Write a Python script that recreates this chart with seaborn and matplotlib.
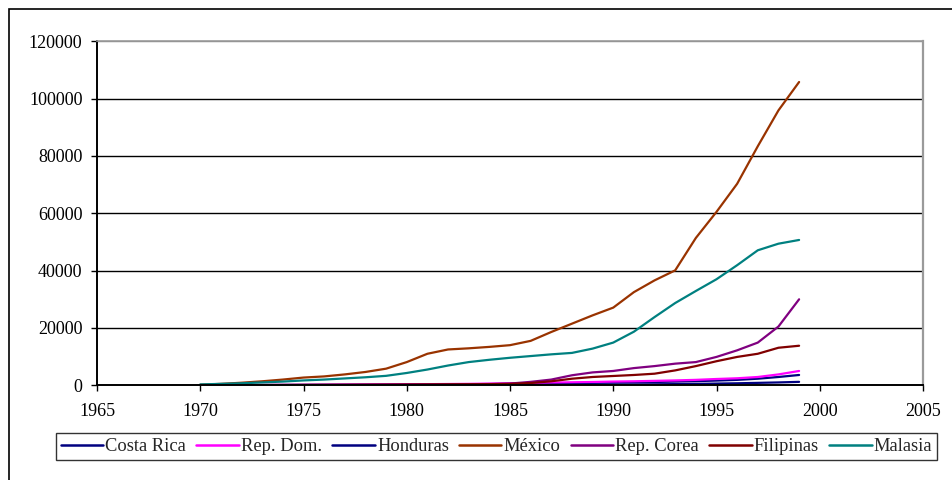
import numpy as np
import pandas as pd
import matplotlib
matplotlib.use("Agg")
import matplotlib.pyplot as plt
from matplotlib.patches import Rectangle
import seaborn as sns

years = list(range(1970, 2000))

costa_rica = [40, 60, 80, 100, 120, 140, 160, 180, 200, 230, 260, 280, 300, 330, 380,
              450, 550, 650, 750, 850, 950, 1050, 1150, 1300, 1450, 1650, 1900, 2300, 2900, 3600]
rep_dom = [20, 40, 60, 90, 120, 150, 180, 220, 260, 300, 350, 400, 450, 500, 600,
           700, 800, 950, 1050, 1150, 1300, 1400, 1550, 1700, 1900, 2200, 2450, 2900, 3800, 5000]
honduras = [10, 15, 20, 25, 30, 35, 40, 45, 50, 60, 70, 80, 90, 100, 110,
            120, 140, 160, 180, 210, 250, 300, 350, 420, 500, 600, 700, 850, 1000, 1200]
mexico = [200, 500, 900, 1400, 2000, 2700, 3100, 3800, 4650, 5800, 8100, 11000, 12500, 12900, 13400,
          14000, 15500, 18600, 21500, 24400, 27100, 32500, 36600, 40100, 51400, 60500, 70300, 83400, 95900, 105800]
rep_corea = [30, 50, 70, 90, 110, 130, 150, 170, 200, 230, 260, 300, 340, 380, 450,
             600, 1200, 2000, 3500, 4500, 5000, 6000, 6700, 7550, 8100, 9900, 12200, 14900, 20500, 30000]
filipinas = [20, 40, 60, 80, 100, 120, 140, 160, 190, 220, 260, 300, 330, 360, 400,
             500, 800, 1400, 2300, 2900, 3250, 3600, 4050, 5200, 6700, 8400, 9900, 11000, 13100, 13800]
malasia = [300, 500, 700, 1000, 1300, 1700, 2000, 2400, 2800, 3300, 4300, 5500, 6900, 8100, 8900,
           9600, 10200, 10800, 11300, 12800, 14900, 18700, 23800, 28700, 32900, 37000, 41900, 47100, 49400, 50700]

series = {
    "Costa Rica": costa_rica,
    "Rep. Dom.": rep_dom,
    "Honduras": honduras,
    "México": mexico,
    "Rep. Corea": rep_corea,
    "Filipinas": filipinas,
    "Malasia": malasia,
}
colors = {
    "Costa Rica": "#000080",
    "Rep. Dom.": "#FF00FF",
    "Honduras": "#000080",
    "México": "#993300",
    "Rep. Corea": "#800080",
    "Filipinas": "#800000",
    "Malasia": "#008080",
}

df = pd.DataFrame(
    [(y, name, v) for name, vals in series.items() for y, v in zip(years, vals)],
    columns=["Año", "País", "Valor"],
)

sns.set_theme(style="white")
plt.rcParams["font.family"] = ["Liberation Serif", "DejaVu Serif"]

fig = plt.figure(figsize=(9.52, 4.8), dpi=100)
ax = fig.add_axes([97 / 952, 1 - 385.3 / 480, (923 - 97) / 952, (385.3 - 41.3) / 480])

sns.lineplot(data=df, x="Año", y="Valor", hue="País", palette=colors,
             hue_order=list(series.keys()), linewidth=1.6, ax=ax, legend=False)

ax.set_xlim(1965, 2005)
ax.set_ylim(0, 120000)
ax.set_xticks(range(1965, 2006, 5))
ax.set_yticks(range(0, 120001, 20000))
ax.set_xlabel("")
ax.set_ylabel("")

for yv in range(20000, 120001, 20000):
    ax.axhline(yv, color="#000000" if yv < 120000 else "#808080", lw=1.0, zorder=0)

ax.spines["left"].set_color("#000000")
ax.spines["bottom"].set_color("#000000")
ax.spines["left"].set_linewidth(1.4)
ax.spines["bottom"].set_linewidth(1.4)
ax.spines["right"].set_color("#9a9a9a")
ax.spines["top"].set_color("#9a9a9a")
ax.spines["right"].set_linewidth(1.6)
ax.spines["top"].set_linewidth(1.2)

ax.tick_params(axis="both", which="major", direction="out", length=4.5, width=1.0,
               color="#000000", labelsize=13, labelcolor="#000000")
ax.tick_params(axis="y", pad=6, left=True)
ax.tick_params(axis="x", pad=8, bottom=True)

handles = [plt.Line2D([], [], color=colors[n], lw=1.8) for n in series]
leg = fig.legend(handles, list(series.keys()), loc="center",
                 bbox_to_anchor=((58 + 935) / 2 / 952, 1 - 446.5 / 480),
                 ncol=7, fontsize=13.3, frameon=True, fancybox=False,
                 edgecolor="#000000", handlelength=2.3, handletextpad=0.12,
                 columnspacing=0.55, borderpad=0.25, borderaxespad=0)
leg.get_frame().set_linewidth(1.0)

# outer chart frame
fig.patches.append(Rectangle((9 / 952, -0.1), 1.2, 1 - 9 / 480 + 0.1,
                             transform=fig.transFigure, fill=False,
                             edgecolor="#000000", lw=1.2))

fig.savefig("out.png", dpi=100)
